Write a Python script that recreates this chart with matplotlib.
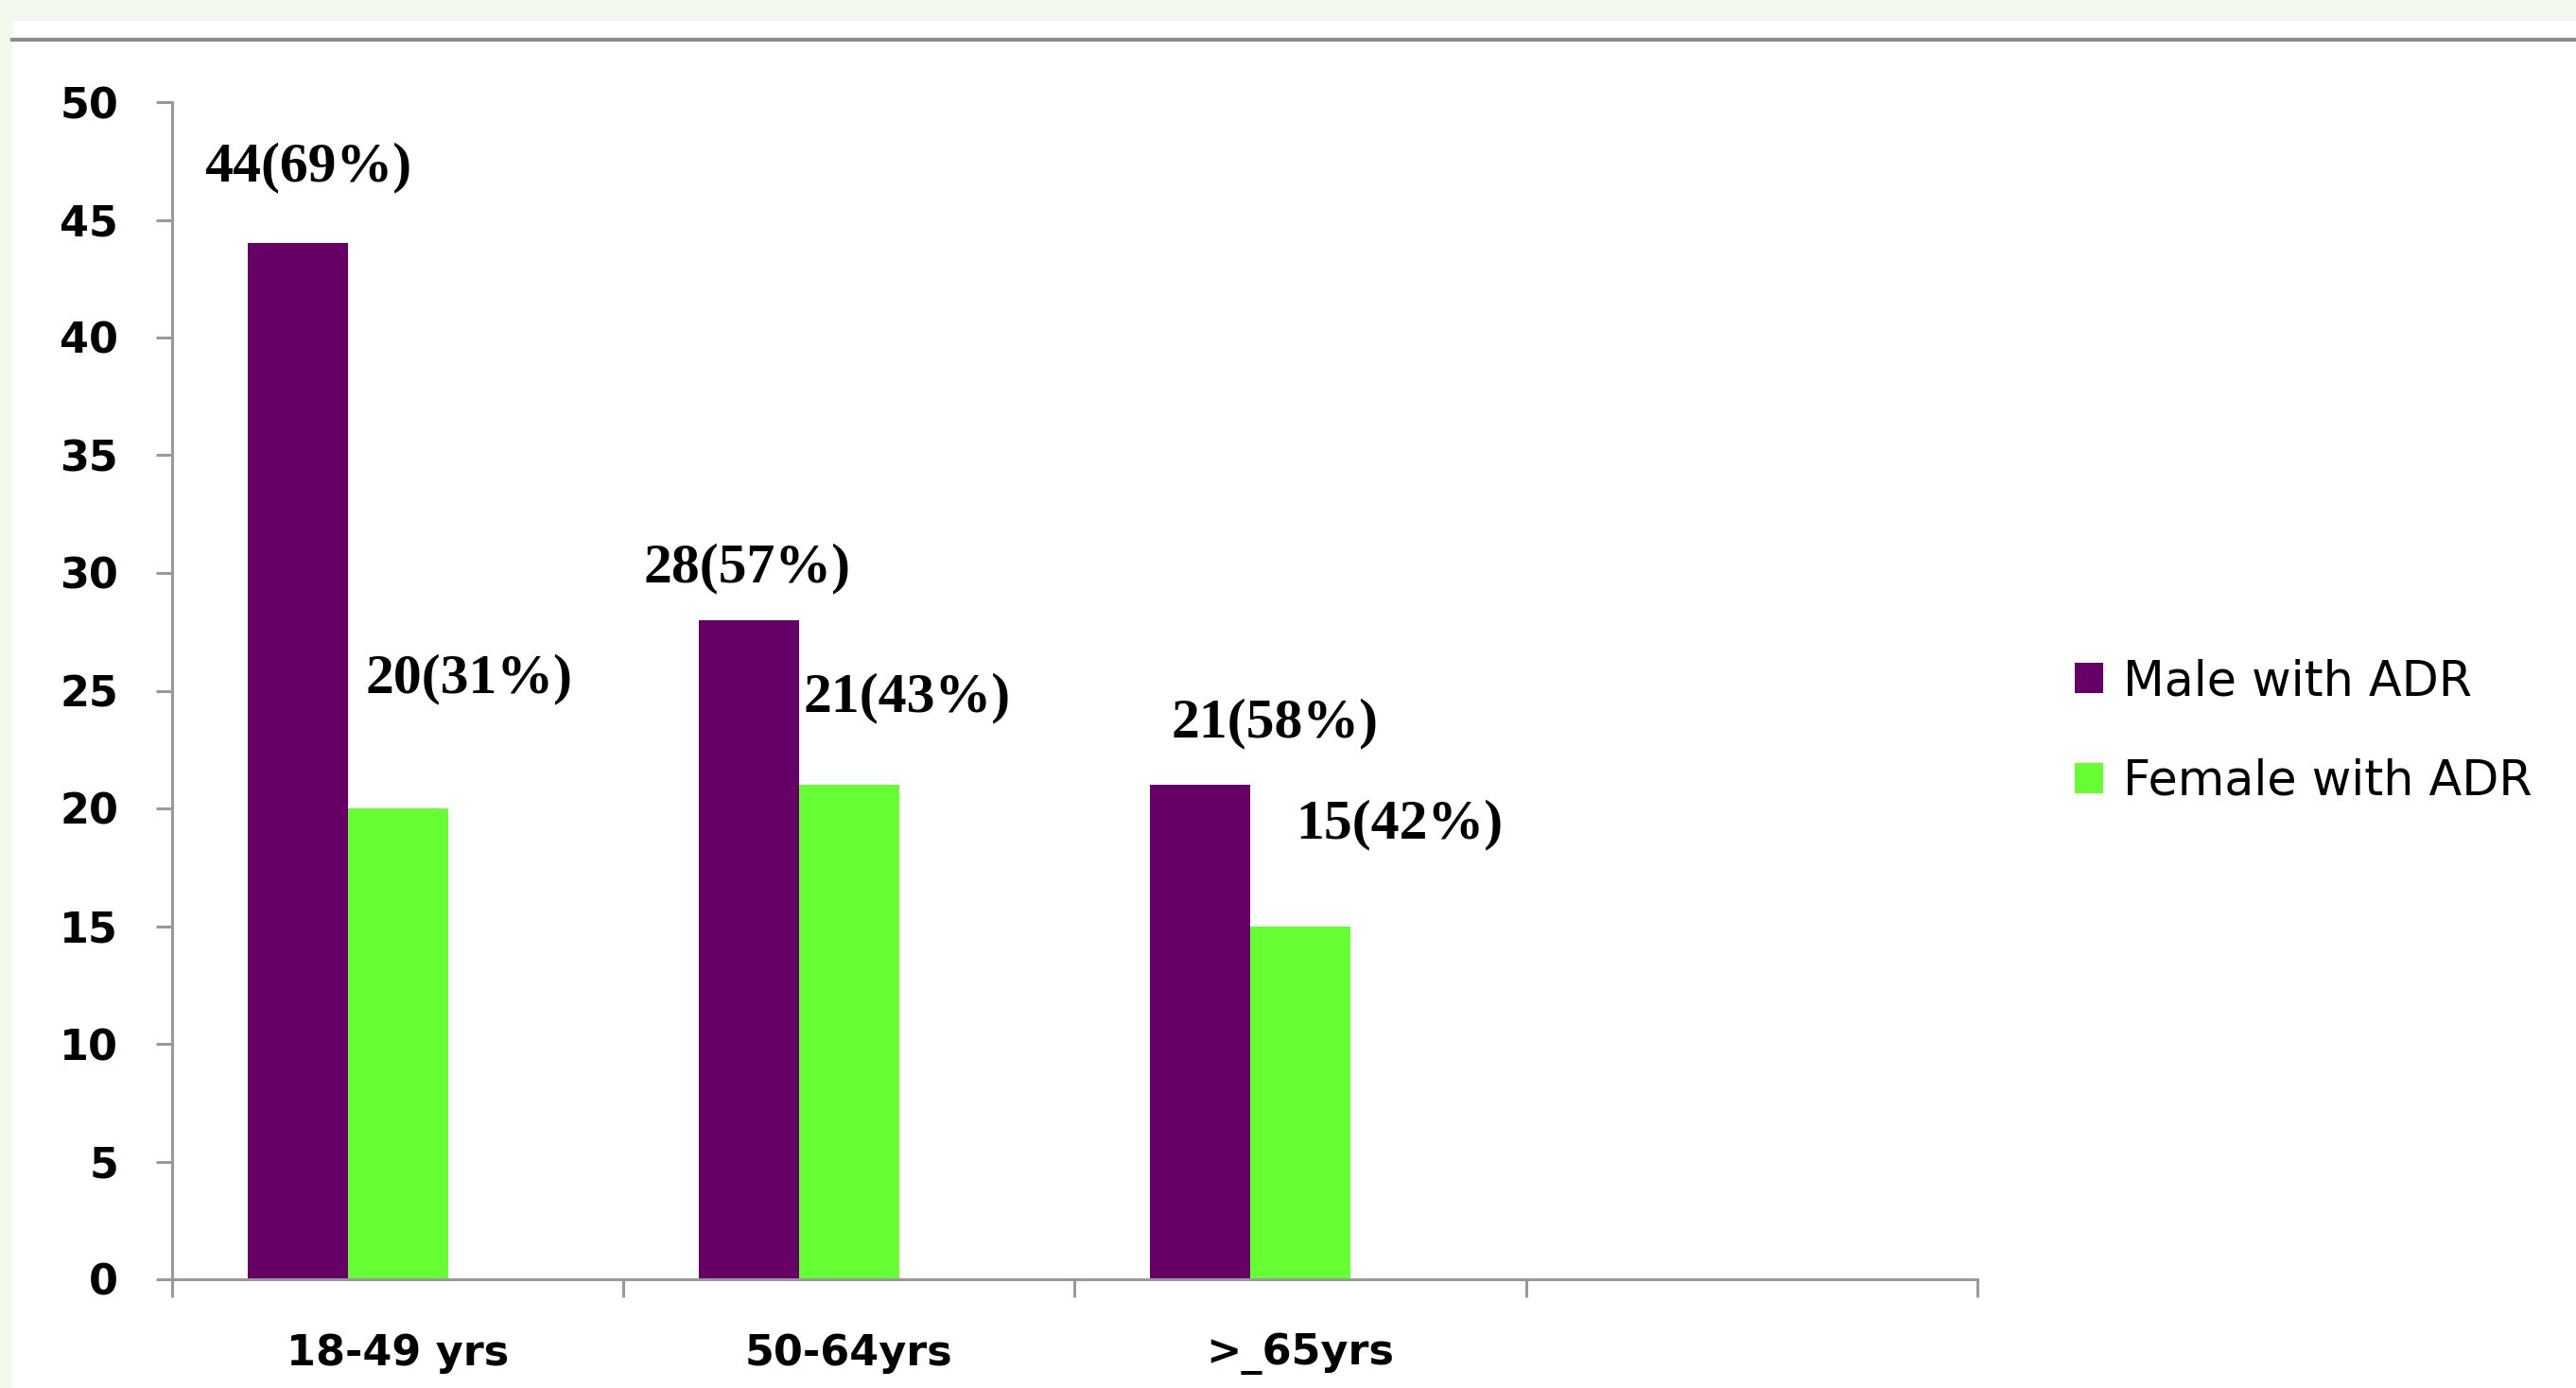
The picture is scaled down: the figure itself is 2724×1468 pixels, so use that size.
import matplotlib.pyplot as plt
from matplotlib.patches import Rectangle, Patch
from matplotlib.lines import Line2D
import numpy as np

# data
groups = ["18-49 yrs", "50-64yrs", ">_65yrs"]
male = [44, 28, 21]
female = [20, 21, 15]
male_pct = [69, 57, 58]
female_pct = [31, 43, 42]
n_slots = 4  # the category axis has one empty slot at the end

# hand placed label offsets (dx in category units, dy in value units)
male_off = [(0.024, 3.2), (-0.005, 2.2), (0.166, 2.6)]
female_off = [(0.158, 5.5), (0.129, 3.7), (0.22, 4.3)]

male_col = "#660066"
female_col = "#66ff33"
axis_col = "#999999"

fig = plt.figure(figsize=(27.24, 14.68), dpi=100)
fig.patch.set_facecolor("white")

# light green page strips and the grey rule at the top
fig.add_artist(Rectangle((0, 1 - 22 / 1468), 1, 22 / 1468, transform=fig.transFigure,
                         facecolor="#f3f8ec", edgecolor="none"))
fig.add_artist(Rectangle((0, 0), 13 / 2724, 1, transform=fig.transFigure,
                         facecolor="#f3f8ec", edgecolor="none"))
fig.add_artist(Line2D([13 / 2724, 1], [1 - 42 / 1468] * 2, transform=fig.transFigure,
                      color="#8c8c8c", lw=3))

ax = fig.add_axes([182 / 2724, 1 - 1353 / 1468, (2091 - 182) / 2724, (1353 - 108) / 1468])

w = 0.222
x = np.arange(len(groups))
ax.bar(x - w, male, w, color=male_col, label="Male with ADR")
ax.bar(x, female, w, color=female_col, label="Female with ADR")

for i in range(len(groups)):
    dx, dy = male_off[i]
    ax.text(x[i] - w + dx, male[i] + dy, "{0}({1}%)".format(male[i], male_pct[i]),
            ha="center", va="center", fontsize=43, fontweight="bold", family="Liberation Serif")
    dx, dy = female_off[i]
    ax.text(x[i] + dx, female[i] + dy, "{0}({1}%)".format(female[i], female_pct[i]),
            ha="center", va="center", fontsize=43, fontweight="bold", family="Liberation Serif")

ax.set_xlim(-0.5, n_slots - 0.5)
ax.set_ylim(0, 50)
ax.set_yticks(np.arange(0, 51, 5))
ax.set_xticks(x)
ax.set_xticklabels(groups)
ax.set_xticks(np.arange(n_slots + 1) - 0.5, minor=True)

for s in ["top", "right"]:
    ax.spines[s].set_visible(False)
for s in ["left", "bottom"]:
    ax.spines[s].set_color(axis_col)
    ax.spines[s].set_linewidth(2.2)

ax.tick_params(axis="y", direction="out", length=12, width=2.2, color=axis_col, pad=29,
               labelsize=32)
ax.tick_params(axis="x", which="major", length=0, pad=41, labelsize=32)
ax.tick_params(axis="x", which="minor", direction="out", length=14, width=2.2, color=axis_col)
for lab in ax.get_xticklabels() + ax.get_yticklabels():
    lab.set_fontweight("bold")

handles = [Patch(facecolor=male_col), Patch(facecolor=female_col)]
fig.legend(handles, ["Male with ADR", "Female with ADR"], loc="upper left",
           bbox_to_anchor=(2194 / 2724, 1 - 696 / 1468), frameon=False, fontsize=36.5,
           handlelength=0.6, handleheight=0.6, handletextpad=0.4, labelspacing=1.1,
           borderpad=0, borderaxespad=0)

fig.savefig("out.png", dpi=100)
